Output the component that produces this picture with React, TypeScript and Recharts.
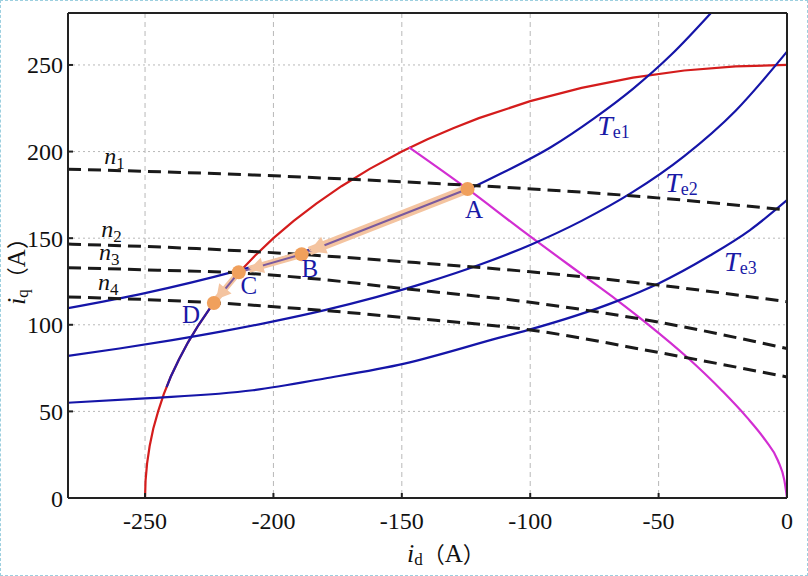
import { CartesianGrid, ComposedChart, Line, Scatter, XAxis, YAxis } from 'recharts'

const xTicks = [-250, -200, -150, -100, -50, 0]
const yTicks = [0, 50, 100, 150, 200, 250]

// current limit circle, |i| = 250 A
const circle = [
	{ x: -250, y: 0 }, { x: -249.8, y: 10 }, { x: -249.2, y: 20 }, { x: -248.2, y: 30 },
	{ x: -246.8, y: 40 }, { x: -244.9, y: 50 }, { x: -242.7, y: 60 }, { x: -240, y: 70 },
	{ x: -236.8, y: 80 }, { x: -233.2, y: 90 }, { x: -229.1, y: 100 }, { x: -224.5, y: 110 },
	{ x: -219.3, y: 120 }, { x: -213.5, y: 130 }, { x: -207.1, y: 140 }, { x: -200, y: 150 },
	{ x: -192.1, y: 160 }, { x: -183.3, y: 170 }, { x: -173.5, y: 180 }, { x: -162.5, y: 190 },
	{ x: -150, y: 200 }, { x: -140, y: 207.1 }, { x: -130, y: 213.5 }, { x: -120, y: 219.3 },
	{ x: -100, y: 229.1 }, { x: -80, y: 236.8 }, { x: -60, y: 242.7 }, { x: -40, y: 246.8 },
	{ x: -20, y: 249.2 }, { x: 0, y: 250 },
]

// lower part of the circle, followed from C downward
const circleLow = [
	{ x: -241.6, y: 64 }, { x: -240, y: 70 }, { x: -236.8, y: 80 }, { x: -233.2, y: 90 },
	{ x: -229.1, y: 100 }, { x: -224.5, y: 110 }, { x: -219.3, y: 120 }, { x: -213.5, y: 130 },
]

const te1 = [
	{ x: -280, y: 109.6 }, { x: -250, y: 118.3 }, { x: -214.6, y: 131 }, { x: -180, y: 146.2 },
	{ x: -150, y: 161.8 }, { x: -124.4, y: 178 }, { x: -110, y: 188.3 }, { x: -92, y: 202.5 },
	{ x: -75, y: 219.3 }, { x: -60, y: 236.2 }, { x: -45, y: 256 }, { x: -29, y: 281 },
]

const te2 = [
	{ x: -280, y: 82.1 }, { x: -260, y: 86.3 }, { x: -240, y: 91 }, { x: -220, y: 96.2 },
	{ x: -200, y: 102 }, { x: -180, y: 108.5 }, { x: -160, y: 116 }, { x: -140, y: 124.6 },
	{ x: -120, y: 134.5 }, { x: -100, y: 146.1 }, { x: -80, y: 160 }, { x: -60, y: 176.7 },
	{ x: -40, y: 197.4 }, { x: -20, y: 223.6 }, { x: 0, y: 257.7 },
]

const te3 = [
	{ x: -280, y: 55 }, { x: -250, y: 57.5 }, { x: -208, y: 62.2 }, { x: -180, y: 69 },
	{ x: -149, y: 77.6 }, { x: -111.6, y: 92.7 }, { x: -101, y: 96.9 }, { x: -66, y: 113.8 },
	{ x: -50, y: 123.9 }, { x: -30, y: 140 }, { x: -14.4, y: 154.7 }, { x: 0, y: 172 },
]

// MTPA curve
const mtpa = [
	{ x: -147.2, y: 202.5 }, { x: -124.4, y: 178.4 }, { x: -103.8, y: 155.2 }, { x: -80, y: 129.2 },
	{ x: -66, y: 114 }, { x: -53.9, y: 100 }, { x: -39, y: 81.4 }, { x: -25, y: 61.5 },
	{ x: -15.7, y: 46.7 }, { x: -8.5, y: 33.5 }, { x: -3.5, y: 21.5 }, { x: -1, y: 10 }, { x: 0, y: 0 },
]

const n1 = [
	{ x: -280, y: 189.8 }, { x: -250, y: 188.6 }, { x: -208, y: 186.5 }, { x: -170, y: 184 },
	{ x: -126, y: 180.7 }, { x: -65, y: 175 }, { x: 0, y: 166.3 },
]
const n2 = [
	{ x: -280, y: 146.6 }, { x: -230, y: 144 }, { x: -189, y: 140.6 }, { x: -150, y: 136.5 },
	{ x: -100, y: 130.6 }, { x: -50, y: 122.9 }, { x: 0, y: 113.3 },
]
const n3 = [
	{ x: -280, y: 133 }, { x: -245, y: 131.5 }, { x: -214, y: 130 }, { x: -180, y: 126 },
	{ x: -150, y: 121 }, { x: -100, y: 113 }, { x: -50, y: 101.5 }, { x: 0, y: 86.3 },
]
const n4 = [
	{ x: -280, y: 116.1 }, { x: -223, y: 112.7 }, { x: -190, y: 109.4 }, { x: -150, y: 104.3 },
	{ x: -100, y: 97 }, { x: -50, y: 84 }, { x: 0, y: 69.9 },
]

const ptA = { x: -124.4, y: 178.4 }
const ptB = { x: -189, y: 140.7 }
const ptC = { x: -213.5, y: 130.3 }
const ptD = { x: -223.2, y: 112.6 }

const trajectory = [ptA, ptB, ptC, ptD]
const arrowAB = [ptA, { x: -186, y: 142.5 }]
const arrowBC = [ptB, { x: -209.5, y: 132 }]
const arrowCD = [ptC, { x: -222.3, y: 114.6 }]

const pointLabels = [
	{ x: -121.9, y: 161.6, text: 'A' },
	{ x: -185.8, y: 127.8, text: 'B' },
	{ x: -209.6, y: 117.7, text: 'C' },
	{ x: -232.1, y: 100.9, text: 'D' },
]
const torqueLabels = [
	{ x: -73.9, y: 209.7, sub: 'e1' },
	{ x: -47.4, y: 176.4, sub: 'e2' },
	{ x: -24.5, y: 131.3, sub: 'e3' },
]
const speedLabels = [
	{ x: -265.9, y: 193, sub: '1' },
	{ x: -267.1, y: 150.6, sub: '2' },
	{ x: -267.9, y: 137.6, sub: '3' },
	{ x: -268.3, y: 120, sub: '4' },
]

const serif = "'Liberation Serif', 'Times New Roman', serif"
const cjk = "'Noto Sans CJK SC', sans-serif"
const blue = '#1515a8'
const labelBlue = '#1a1aa6'

function arrowDot(size: number) {
	const seen: Record<number, [number, number]> = {}
	return (p: any) => {
		const { cx, cy, index } = p
		seen[index] = [cx, cy]
		if (index === 0 || !seen[index - 1]) return <g key={`d${index}`} />
		const [px, py] = seen[index - 1]
		const a = Math.atan2(cy - py, cx - px)
		const len = size * 1.8
		const w = size
		const bx = cx - len * Math.cos(a)
		const by = cy - len * Math.sin(a)
		const nx = -Math.sin(a) * w
		const ny = Math.cos(a) * w
		return (
			<polygon
				key={`d${index}`}
				points={`${cx},${cy} ${bx + nx},${by + ny} ${bx - nx},${by - ny}`}
				fill='#f4c4a0'
			/>
		)
	}
}

const pointLabelShape = (p: any) => (
	<text x={p.cx} y={p.cy} textAnchor='middle' fill={labelBlue} fontFamily={serif} fontSize={25}>
		{p.payload.text}
	</text>
)

const torqueLabelShape = (p: any) => (
	<text x={p.cx} y={p.cy} fill={labelBlue} fontFamily={serif}>
		<tspan fontStyle='italic' fontSize={28}>T</tspan>
		<tspan fontSize={18} dy={3}>{p.payload.sub}</tspan>
	</text>
)

const speedLabelShape = (p: any) => (
	<text x={p.cx} y={p.cy} fill='#111' fontFamily={serif}>
		<tspan fontStyle='italic' fontSize={24}>n</tspan>
		<tspan fontSize={17} dy={5}>{p.payload.sub}</tspan>
	</text>
)

const orangeDot = (p: any) => <circle key={`o${p.index}`} cx={p.cx} cy={p.cy} r={7} fill='#f0a05c' />

const tickStyle = { fill: '#111', fontSize: 24, fontFamily: serif }
const axisStroke = { stroke: '#222', strokeWidth: 2 }

function AxisTitle({ sub }: { sub: string }) {
	return (
		<>
			<tspan fontFamily={serif} fontStyle='italic' fontSize={26}>i</tspan>
			<tspan fontFamily={serif} fontSize={17} dy={3}>{sub}</tspan>
			<tspan fontFamily={cjk} fontSize={22} dy={-3}>（</tspan>
			<tspan fontFamily={serif} fontSize={25}>A</tspan>
			<tspan fontFamily={cjk} fontSize={22}>）</tspan>
		</>
	)
}

export default function App() {
	return (
		<div
			style={{
				position: 'relative',
				width: 808,
				height: 576,
				boxSizing: 'border-box',
				border: '1px dashed #9ccfdf',
				background: '#fff',
				fontFamily: serif,
			}}
		>
			<style>{'body{margin:0}'}</style>
			<div style={{ position: 'absolute', left: -1, top: -1 }}>
				<ComposedChart
					width={808}
					height={576}
					margin={{ top: 12, right: 20, bottom: 77, left: 67 }}
					style={{ fontFamily: serif }}
				>
					<CartesianGrid horizontal={false} stroke='#b8b8b8' strokeDasharray='5 4' />
					<CartesianGrid vertical={false} stroke='#b8b8b8' strokeDasharray='2 3' />
					<XAxis
						type='number'
						dataKey='x'
						domain={[-280, 0]}
						ticks={xTicks}
						allowDataOverflow
						height={1}
						axisLine={axisStroke}
						tickLine={axisStroke}
						tickSize={-5}
						tickMargin={19}
						tick={tickStyle}
					/>
					<XAxis
						xAxisId='top'
						orientation='top'
						type='number'
						domain={[-280, 0]}
						ticks={xTicks}
						allowDataOverflow
						height={1}
						axisLine={axisStroke}
						tickLine={axisStroke}
						tickSize={-5}
						tick={false}
					/>
					<YAxis
						type='number'
						dataKey='y'
						domain={[0, 280]}
						ticks={yTicks}
						allowDataOverflow
						width={1}
						axisLine={axisStroke}
						tickLine={axisStroke}
						tickSize={-5}
						tickMargin={10}
						tick={tickStyle}
					/>
					<YAxis
						yAxisId='right'
						orientation='right'
						type='number'
						domain={[0, 280]}
						ticks={yTicks}
						allowDataOverflow
						width={1}
						axisLine={axisStroke}
						tickLine={axisStroke}
						tickSize={-5}
						tick={false}
					/>

					<Line data={circle} dataKey='y' type='linear' stroke='#d41c1c' strokeWidth={2.2} dot={false} isAnimationActive={false} />
					<Line data={circleLow} dataKey='y' type='linear' stroke='#2a1aa0' strokeWidth={2.2} dot={false} isAnimationActive={false} />
					<Line data={mtpa} dataKey='y' type='monotone' stroke='#d22ed2' strokeWidth={2.2} dot={false} isAnimationActive={false} />
					<Line data={te1} dataKey='y' type='monotone' stroke={blue} strokeWidth={2.2} dot={false} isAnimationActive={false} />
					<Line data={te2} dataKey='y' type='monotone' stroke={blue} strokeWidth={2.2} dot={false} isAnimationActive={false} />
					<Line data={te3} dataKey='y' type='monotone' stroke={blue} strokeWidth={2.2} dot={false} isAnimationActive={false} />
					<Line data={n1} dataKey='y' type='monotone' stroke='#1a1a1a' strokeWidth={3} strokeDasharray='13 7' dot={false} isAnimationActive={false} />
					<Line data={n2} dataKey='y' type='monotone' stroke='#1a1a1a' strokeWidth={3} strokeDasharray='13 7' dot={false} isAnimationActive={false} />
					<Line data={n3} dataKey='y' type='monotone' stroke='#1a1a1a' strokeWidth={3} strokeDasharray='13 7' dot={false} isAnimationActive={false} />
					<Line data={n4} dataKey='y' type='monotone' stroke='#1a1a1a' strokeWidth={3} strokeDasharray='13 7' dot={false} isAnimationActive={false} />

					<Line data={arrowAB} dataKey='y' type='linear' stroke='#f4c4a0' strokeWidth={9} dot={arrowDot(9)} isAnimationActive={false} />
					<Line data={arrowBC} dataKey='y' type='linear' stroke='#f4c4a0' strokeWidth={7} dot={arrowDot(8)} isAnimationActive={false} />
					<Line data={arrowCD} dataKey='y' type='linear' stroke='#f4c4a0' strokeWidth={6} dot={arrowDot(8)} isAnimationActive={false} />
					<Line data={trajectory} dataKey='y' type='linear' stroke='#7a5a9e' strokeWidth={2} dot={orangeDot} isAnimationActive={false} />

					<Scatter data={pointLabels} dataKey='y' shape={pointLabelShape} isAnimationActive={false} />
					<Scatter data={torqueLabels} dataKey='y' shape={torqueLabelShape} isAnimationActive={false} />
					<Scatter data={speedLabels} dataKey='y' shape={speedLabelShape} isAnimationActive={false} />
				</ComposedChart>
			</div>
			<svg
				width={808}
				height={576}
				style={{ position: 'absolute', left: -1, top: -1, pointerEvents: 'none' }}
			>
				<text x={407} y={562} fill='#111'>
					<AxisTitle sub='d' />
				</text>
				<text transform='translate(25,266) rotate(-90)' textAnchor='middle' fill='#111'>
					<AxisTitle sub='q' />
				</text>
			</svg>
		</div>
	)
}
